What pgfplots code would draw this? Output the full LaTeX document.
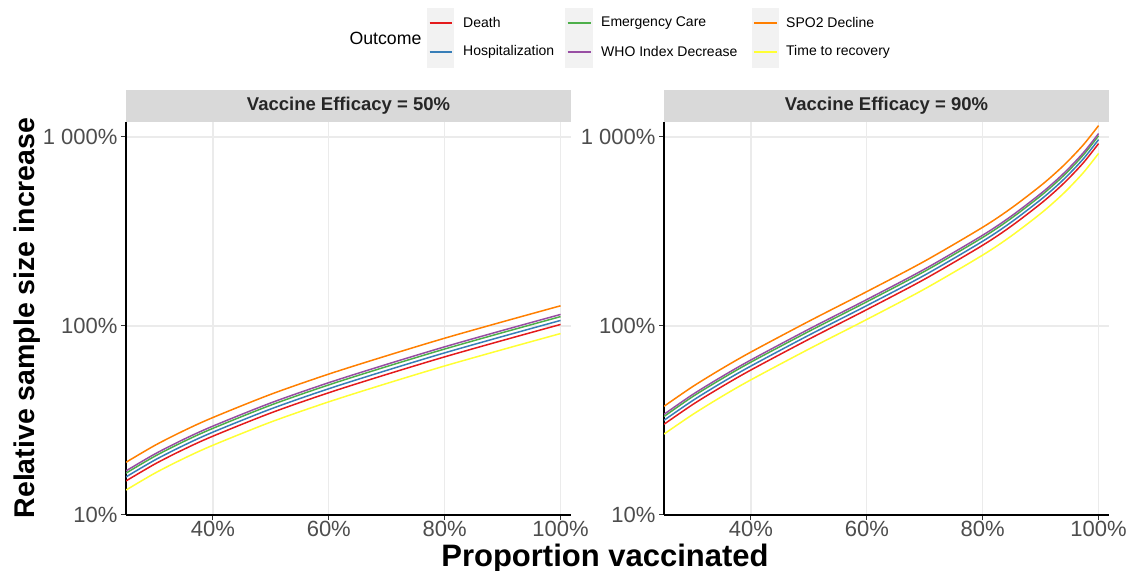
\documentclass[border=0pt]{standalone}
\usepackage{pgfplots}
\usepackage{pgfplotstable}
\pgfplotsset{compat=1.18}
\usepackage{fontspec}
\setmainfont{Liberation Sans}

\definecolor{cDeath}{HTML}{E41A1C}
\definecolor{cHosp}{HTML}{377EB8}
\definecolor{cEmerg}{HTML}{4DAF4A}
\definecolor{cWHO}{HTML}{984EA3}
\definecolor{cSPO}{HTML}{FF7F00}
\definecolor{cTTR}{HTML}{FFFF33}
\definecolor{stripgray}{HTML}{D9D9D9}
\definecolor{keygray}{HTML}{F2F2F2}
\definecolor{gridgray}{HTML}{EBEBEB}
\definecolor{labgray}{HTML}{4D4D4D}

\pgfplotstableread{
x     death  hosp   emerg  who    spo    ttr
25    15.14  15.90  16.65  17.11  19.00  13.55
30    18.62  19.55  20.48  21.04  23.37  16.66
35    22.27  23.38  24.50  25.17  27.95  19.93
40    26.13  27.44  28.74  29.53  32.79  23.39
50    34.67  36.40  38.14  39.18  43.51  31.03
60    44.36  46.58  48.80  50.13  55.67  39.70
70    55.46  58.23  61.01  62.67  69.60  49.64
80    68.67  72.10  75.54  77.60  86.18  61.46
90    83.86  88.05  92.25  94.76  105.24 75.05
100   101.9  107.0  112.1  115.1  127.9  91.2
}\vefifty

\pgfplotstableread{
x     death  hosp   emerg  who    spo    ttr
25    30.2   31.7   33.2   34.1   37.6   26.8
30    38.5   40.4   42.4   43.5   47.9   34.1
35    47.8   50.2   52.6   54.0   59.5   42.4
40    58.5   61.4   64.4   66.1   72.8   51.9
50    85.1   89.4   93.6   96.2   105.9  75.5
60    122.1  128.2  134.3  138.0  152.0  108.3
70    177.1  185.9  194.8  200.1  220.5  157.1
80    267.4  280.8  294.1  302.2  332.9  237.2
85    338.6  355.5  372.5  382.6  421.6  300.3
90    443.4  465.6  487.7  501.0  552.0  393.3
93    532.5  559.1  585.8  601.7  663.0  472.3
95    610.3  640.8  671.3  689.6  759.8  541.3
97.5  737.8  774.7  811.6  833.7  918.6  654.4
100   922.5  968.6  1014.8 1042.4 1148.5 818.3
}\veninety

\pgfplotsset{
  every axis/.append style={
    scale only axis, width=445pt, height=393pt,
    xmin=25, xmax=101.8, ymin=10, ymax=1200,
    xtick={40,60,80,100}, xticklabels={40\%,60\%,80\%,100\%},
    ytick={10,100,1000}, yticklabels={10\%,100\%,1 000\%},
    axis x line*=bottom, axis y line*=left,
    axis line style={-, line width=1.1pt, color=black},
    xmajorgrids, ymajorgrids,
    major grid style={line width=1.2pt, color=gridgray},
    tick align=outside, major tick length=5pt,
    tick style={line width=1pt, color=black!80},
    tick label style={font=\fontsize{22}{24}\selectfont, text=labgray},
    xticklabel style={inner ysep=1pt},
  },
  every axis plot/.append style={line width=1.5pt, no markers, smooth},
}

\newcommand{\sixcurves}[1]{%
  \addplot[cDeath] table[x=x,y=death] {#1};
  \addplot[cHosp]  table[x=x,y=hosp]  {#1};
  \addplot[cEmerg] table[x=x,y=emerg] {#1};
  \addplot[cWHO]   table[x=x,y=who]   {#1};
  \addplot[cSPO]   table[x=x,y=spo]   {#1};
  \addplot[cTTR]   table[x=x,y=ttr]   {#1};
}

\begin{document}
\begin{tikzpicture}[x=1pt,y=1pt]
\useasboundingbox (0,0) rectangle (1131,570);

% left panel
\begin{axis}[ymode=log, yminorticks=false, at={(126pt,55pt)}, anchor=south west]
  \sixcurves{\vefifty}
\end{axis}
% right panel
\begin{axis}[ymode=log, yminorticks=false, at={(664pt,55pt)}, anchor=south west]
  \sixcurves{\veninety}
\end{axis}

% strips
\fill[stripgray] (126,448) rectangle (571,480);
\fill[stripgray] (664,448) rectangle (1109,480);
\node[font=\bfseries\fontsize{18.5}{20}\selectfont, text=black!85] at (348.5,464) {Vaccine Efficacy = 50\%};
\node[font=\bfseries\fontsize{18.5}{20}\selectfont, text=black!85] at (886.5,464) {Vaccine Efficacy = 90\%};

% axis titles
\node[rotate=90, font=\bfseries\fontsize{28.5}{30}\selectfont] at (27,252) {Relative sample size increase};
\node[anchor=base, inner sep=0pt, font=\bfseries\fontsize{31}{33}\selectfont] at (605,3.5) {Proportion vaccinated};

% legend
\node[anchor=west, font=\fontsize{17.7}{19}\selectfont] at (346,532) {Outcome};
\fill[keygray] (427,502) rectangle (454,562);
\fill[keygray] (565,502) rectangle (593,562);
\fill[keygray] (751.5,502) rectangle (779,562);
\begin{scope}[line width=1.5pt]
\draw[cDeath] (429.5,547) -- (451.5,547);
\draw[cHosp]  (429.5,518) -- (451.5,518);
\draw[cEmerg] (567.5,547) -- (590.5,547);
\draw[cWHO]   (567.5,518) -- (590.5,518);
\draw[cSPO]   (754,547) -- (776.5,547);
\draw[cTTR]   (754,518) -- (776.5,518);
\end{scope}
\begin{scope}[every node/.style={anchor=west, font=\fontsize{14}{16}\selectfont, inner sep=0pt}]
\node at (463,547) {Death};
\node at (463,518) {Hospitalization};
\node at (601,547) {Emergency Care};
\node at (601,518) {WHO Index Decrease};
\node at (786,547) {SPO2 Decline};
\node at (786,518) {Time to recovery};
\end{scope}
\end{tikzpicture}
\end{document}
